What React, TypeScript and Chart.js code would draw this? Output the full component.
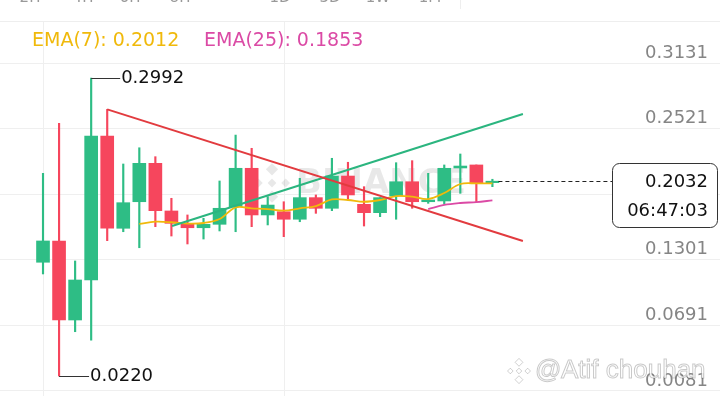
import React, { useEffect, useRef } from 'react';
import { Chart, registerables } from 'chart.js';
Chart.register(...registerables);

// ---- data ----
const OPEN = [0.1278, 0.1476, 0.0741, 0.1113, 0.2452, 0.1594, 0.1841, 0.2198, 0.1755, 0.1640, 0.1599, 0.1631, 0.1795, 0.2152, 0.1718, 0.1748, 0.1678, 0.1879, 0.1780, 0.2080, 0.1817, 0.1739, 0.1894, 0.2027, 0.1841, 0.1848, 0.2155, 0.2183, 0.2018];
const HIGH = [0.2105, 0.2570, 0.1290, 0.2992, 0.2700, 0.2192, 0.2343, 0.2260, 0.1873, 0.1718, 0.1687, 0.2034, 0.2461, 0.2338, 0.1888, 0.1841, 0.2059, 0.1904, 0.2245, 0.2208, 0.1981, 0.1879, 0.2204, 0.2223, 0.2105, 0.2183, 0.2285, 0.2183, 0.2050];
const LOW = [0.1169, 0.0220, 0.0632, 0.0553, 0.1479, 0.1562, 0.1413, 0.1609, 0.1522, 0.1448, 0.1494, 0.1569, 0.1562, 0.1609, 0.1625, 0.1516, 0.1655, 0.1733, 0.1758, 0.1857, 0.1615, 0.1702, 0.1678, 0.1780, 0.1826, 0.1820, 0.1919, 0.1841, 0.1981];
const CLOSE = [0.1476, 0.0741, 0.1113, 0.2452, 0.1594, 0.1832, 0.2198, 0.1758, 0.1640, 0.1599, 0.1631, 0.1780, 0.2152, 0.1718, 0.1810, 0.1678, 0.1879, 0.1780, 0.2080, 0.1904, 0.1739, 0.1879, 0.2027, 0.1841, 0.1857, 0.2152, 0.2173, 0.2018, 0.2032];

const EMA7_X = [6, 7, 8, 9, 10, 11, 12, 13, 14, 15, 16, 17, 18, 19, 20, 21, 22, 23, 24, 25, 26, 27, 28];
const EMA7 = [0.1634, 0.1655, 0.1650, 0.1638, 0.1643, 0.1680, 0.1789, 0.1780, 0.1773, 0.1758, 0.1780, 0.1801, 0.1862, 0.1857, 0.1841, 0.1857, 0.1894, 0.1888, 0.1866, 0.1922, 0.2006, 0.2012, 0.2012];
const EMA25_X = [24, 25, 26, 27, 28];
const EMA25 = [0.1773, 0.1811, 0.1829, 0.1838, 0.1853];

const DOWN_TREND_X = [4, 29.9];
const DOWN_TREND_Y = [0.2700, 0.1476];
const UP_TREND_X = [8.04, 29.9];
const UP_TREND_Y = [0.1615, 0.2657];

const Y_TICKS = [0.3131, 0.2521, 0.1911, 0.1301, 0.0691, 0.0081];
const X_GRID = [0, 15];
const CURRENT_PRICE = 0.2032;
const COUNTDOWN = '06:47:03';
const HIGH_MARK = { index: 3, value: 0.2992 };
const LOW_MARK = { index: 1, value: 0.0220 };
const TIMEFRAMES = ['2H', '4H', '6H', '8H', '1D', '3D', '1W', '1M'];
const TIMEFRAME_X = [30, 83, 130, 180, 280, 330, 378, 430];

const GREEN = '#2EBD85';
const RED = '#F6465D';
const FONT = '"DejaVu Sans", sans-serif';

function drawDiamondLogo(ctx: CanvasRenderingContext2D, cx: number, cy: number, s: number, fill: string, stroke?: string) {
  const sq = (x: number, y: number, r: number) => {
    ctx.beginPath();
    ctx.moveTo(x, y - r);
    ctx.lineTo(x + r, y);
    ctx.lineTo(x, y + r);
    ctx.lineTo(x - r, y);
    ctx.closePath();
  };
  const parts: [number, number, number][] = [
    [0, -s * 0.62, s * 0.28],
    [0, s * 0.62, s * 0.28],
    [-s * 0.62, 0, s * 0.2],
    [s * 0.62, 0, s * 0.2],
    [0, 0, s * 0.2],
  ];
  for (const [dx, dy, r] of parts) {
    sq(cx + dx, cy + dy, r);
    ctx.fillStyle = fill;
    ctx.fill();
    if (stroke) {
      ctx.strokeStyle = stroke;
      ctx.lineWidth = 1;
      ctx.stroke();
    }
  }
}

const overlay = {
  id: 'overlay',
  beforeDatasetsDraw(chart: any) {
    const { ctx, scales } = chart;
    const xs = scales.x;
    ctx.save();
    ctx.strokeStyle = '#efefef';
    ctx.lineWidth = 1;
    for (const g of X_GRID) {
      const px = Math.round(xs.getPixelForValue(g)) + 0.5;
      ctx.beginPath();
      ctx.moveTo(px, 21);
      ctx.lineTo(px, 396);
      ctx.stroke();
    }
    drawDiamondLogo(ctx, 272, 183, 22, 'rgba(0,0,0,0.09)');
    ctx.fillStyle = 'rgba(0,0,0,0.09)';
    ctx.font = 'bold 34px ' + FONT;
    ctx.textBaseline = 'middle';
    ctx.textAlign = 'left';
    ctx.fillText('BINANCE', 296, 184);
    ctx.restore();
  },
  afterDraw(chart: any) {
    const { ctx, scales } = chart;
    const xs = scales.x;
    const ys = scales.y;
    ctx.save();
    ctx.strokeStyle = '#eeeeee';
    ctx.lineWidth = 1;
    ctx.beginPath();
    ctx.moveTo(0, 21.5);
    ctx.lineTo(720, 21.5);
    ctx.stroke();
    ctx.beginPath();
    ctx.moveTo(460.5, 0);
    ctx.lineTo(460.5, 9);
    ctx.stroke();
    ctx.fillStyle = '#999';
    ctx.font = '15px ' + FONT;
    ctx.textAlign = 'center';
    ctx.textBaseline = 'alphabetic';
    TIMEFRAMES.forEach((t, i) => ctx.fillText(t, TIMEFRAME_X[i], 2));

    ctx.font = '19px ' + FONT;
    ctx.textBaseline = 'middle';
    ctx.textAlign = 'left';
    ctx.fillStyle = '#F0B90B';
    ctx.fillText('EMA(7): ' + EMA7[EMA7.length - 1].toFixed(4), 32, 41);
    ctx.fillStyle = '#DB4AA5';
    ctx.fillText('EMA(25): ' + EMA25[EMA25.length - 1].toFixed(4), 204, 41);

    ctx.font = '18px ' + FONT;
    ctx.strokeStyle = '#333';
    ctx.lineWidth = 1;
    ctx.fillStyle = '#111';
    const hx = xs.getPixelForValue(HIGH_MARK.index);
    const hy = Math.round(ys.getPixelForValue(HIGH_MARK.value)) + 0.5;
    ctx.beginPath();
    ctx.moveTo(hx, hy);
    ctx.lineTo(hx + 29, hy);
    ctx.stroke();
    ctx.fillText(HIGH_MARK.value.toFixed(4), hx + 30, hy);
    const lx = xs.getPixelForValue(LOW_MARK.index);
    const ly = Math.round(ys.getPixelForValue(LOW_MARK.value)) + 0.5;
    ctx.beginPath();
    ctx.moveTo(lx, ly);
    ctx.lineTo(lx + 30, ly);
    ctx.stroke();
    ctx.fillText(LOW_MARK.value.toFixed(4), lx + 31, ly);

    const py = Math.round(ys.getPixelForValue(CURRENT_PRICE)) + 0.5;
    const lastX = xs.getPixelForValue(OPEN.length - 1) + 6;
    ctx.setLineDash([4, 3]);
    ctx.strokeStyle = '#222';
    ctx.beginPath();
    ctx.moveTo(lastX, py);
    ctx.lineTo(613, py);
    ctx.stroke();
    ctx.setLineDash([]);
    const bx = 612.5, by = py - 18, bw = 105, bh = 64, r = 7;
    ctx.beginPath();
    ctx.moveTo(bx + r, by);
    ctx.lineTo(bx + bw - r, by);
    ctx.arcTo(bx + bw, by, bx + bw, by + r, r);
    ctx.lineTo(bx + bw, by + bh - r);
    ctx.arcTo(bx + bw, by + bh, bx + bw - r, by + bh, r);
    ctx.lineTo(bx + r, by + bh);
    ctx.arcTo(bx, by + bh, bx, by + bh - r, r);
    ctx.lineTo(bx, by + r);
    ctx.arcTo(bx, by, bx + r, by, r);
    ctx.closePath();
    ctx.fillStyle = '#fff';
    ctx.fill();
    ctx.strokeStyle = '#333';
    ctx.stroke();
    ctx.fillStyle = '#111';
    ctx.textAlign = 'right';
    ctx.fillText(CURRENT_PRICE.toFixed(4), 708, py + 1);
    ctx.fillText(COUNTDOWN, 708, py + 30);

    drawDiamondLogo(ctx, 519, 371, 14, '#fff', 'rgba(0,0,0,0.18)');
    ctx.font = '26px "Liberation Sans", sans-serif';
    ctx.textAlign = 'left';
    ctx.fillStyle = 'rgba(255,255,255,0.9)';
    ctx.strokeStyle = 'rgba(0,0,0,0.22)';
    ctx.lineWidth = 1;
    ctx.fillText('@', 535, 371);
    ctx.strokeText('@', 535, 371);
    ctx.fillText('Atif chouhan', 561, 371);
    ctx.strokeText('Atif chouhan', 561, 371);
    ctx.restore();
  },
};

export default function App() {
  const ref = useRef<HTMLCanvasElement>(null);
  useEffect(() => {
    document.body.style.margin = '0';
    const canvas = ref.current!;
    const idx = OPEN.map((_, i) => i);
    const colors = idx.map((i) => (CLOSE[i] >= OPEN[i] ? GREEN : RED));
    const chart = new Chart(canvas, {
      type: 'bar',
      data: {
        datasets: [
          {
            type: 'line',
            data: DOWN_TREND_X.map((x, i) => ({ x, y: DOWN_TREND_Y[i] })),
            borderColor: '#E23B3F',
            borderWidth: 2,
            pointRadius: 0,
            order: 0,
          } as any,
          {
            type: 'line',
            data: UP_TREND_X.map((x, i) => ({ x, y: UP_TREND_Y[i] })),
            borderColor: '#2BB57F',
            borderWidth: 2,
            pointRadius: 0,
            order: 0,
          } as any,
          {
            type: 'line',
            data: EMA7_X.map((x, i) => ({ x, y: EMA7[i] })),
            borderColor: '#F0B90B',
            borderWidth: 1.8,
            pointRadius: 0,
            tension: 0.35,
            order: 1,
          } as any,
          {
            type: 'line',
            data: EMA25_X.map((x, i) => ({ x, y: EMA25[i] })),
            borderColor: '#DB4AA5',
            borderWidth: 1.8,
            pointRadius: 0,
            tension: 0.35,
            order: 1,
          } as any,
          {
            type: 'bar',
            data: idx.map((i) => ({ x: i, y: [OPEN[i], CLOSE[i]] })),
            backgroundColor: colors,
            barThickness: 13,
            minBarLength: 1.5,
            grouped: false,
            order: 2,
          } as any,
          {
            type: 'bar',
            data: idx.map((i) => ({ x: i, y: [LOW[i], HIGH[i]] })),
            backgroundColor: colors,
            barThickness: 1.5,
            grouped: false,
            order: 3,
          } as any,
        ],
      },
      options: {
        animation: false,
        responsive: false,
        maintainAspectRatio: false,
        devicePixelRatio: 1,
        layout: { padding: { top: 21, left: 0, right: 0, bottom: 0 } },
        plugins: { legend: { display: false }, tooltip: { enabled: false } },
        scales: {
          x: { type: 'linear', display: false, offset: false, min: -2.68, max: 42.18 },
          y: {
            type: 'linear',
            position: 'right',
            min: 0.0034,
            max: 0.3522,
            afterBuildTicks: (scale: any) => {
              scale.ticks = Y_TICKS.map((v) => ({ value: v }));
            },
            afterFit: (scale: any) => {
              scale.width = 0;
              scale.paddingTop = 0;
              scale.paddingBottom = 0;
              scale.paddingLeft = 0;
              scale.paddingRight = 0;
            },
            grid: { color: '#efefef', drawTicks: false },
            border: { display: false },
            ticks: {
              mirror: true,
              padding: -12,
              labelOffset: -10,
              color: '#858585',
              font: { family: FONT, size: 18 },
              callback: (v: any) => Number(v).toFixed(4),
            },
          },
        },
      } as any,
      plugins: [overlay],
    });
    return () => chart.destroy();
  }, []);
  return (
    <div style={{ position: 'fixed', left: 0, top: 0, width: 720, height: 396, background: '#fff' }}>
      <canvas ref={ref} width={720} height={396} style={{ display: 'block' }} />
    </div>
  );
}
